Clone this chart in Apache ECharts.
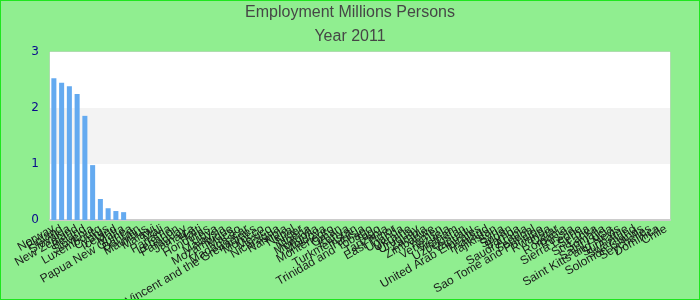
<!DOCTYPE html>
<html>
<head>
<meta charset="utf-8">
<script src="https://cdn.jsdelivr.net/npm/echarts@6/dist/echarts.min.js"></script>
<style>
html,body{margin:0;padding:0;background:#90ee90;}
#chart{width:700px;height:300px;}
</style>
</head>
<body>
<div id="chart"></div>
<script>
var titleText = "Employment Millions Persons";
var subtitleText = "Year 2011";
var categories = [
"Norway","Finland","Slovakia","New Zealand","Ireland","Slovenia","Luxembourg","Cyprus","Iceland","Malta",
"Papua New Guinea","Bahrain","Mauritius","Malawi","Mali","Panama","Lebanon","Paraguay","Jamaica","Haiti",
"Honduras","Libya","Malaysia","Mozambique","Macao","Madagascar","Saint Vincent and the Grenadines","Morocco","Mexico","Nicaragua",
"Namibia","Nepal","Niger","Nigeria","Mongolia","Moldova","Montenegro","Oman","Kenya","Turkmenistan",
"Tunisia","Trinidad and Tobago","Togo","Tanzania","East Timor","Uganda","Ukraine","Uruguay","Zambia","Zimbabwe",
"Yemen","Venezuela","Vietnam","Uzbekistan","Vanuatu","United Arab Emirates","Thailand","Tajikistan","Syria","Sudan",
"Samoa","Saudi Arabia","Senegal","Sao Tome and Principe","Rwanda","Qatar","Romania","Russia","Sierra Leone","Serbia",
"Sri Lanka","Somalia","Saint Lucia","Saint Kitts and Nevis","Suriname","Swaziland","Solomon Islands","Seychelles","Dominica","Chile"
];
var values = [
2.53,2.45,2.39,2.25,1.86,0.98,0.375,0.21,0.16,0.14,
0,0,0,0,0,0,0,0,0,0,
0,0,0,0,0,0,0,0,0,0,
0,0,0,0,0,0,0,0,0,0,
0,0,0,0,0,0,0,0,0,0,
0,0,0,0,0,0,0,0,0,0,
0,0,0,0,0,0,0,0,0,0,
0,0,0,0,0,0,0,0,0,0
];
var yMin = 0, yMax = 3, yInterval = 1;

var chart = echarts.init(document.getElementById('chart'), null, {renderer:'canvas'});
chart.setOption({
  backgroundColor: '#90ee90',
  animation: false,
  title: {
    text: titleText + "\n" + subtitleText,
    left: 'center',
    top: -4,
    textStyle: {fontSize: 16, fontWeight: 'normal', color: '#464646', lineHeight: 24, fontFamily: 'Liberation Sans'}
  },
  graphic: [{
    type: 'rect', silent: true, z: 100,
    shape: {x: 0, y: 0, width: 700, height: 300},
    style: {fill: 'none', stroke: '#1ee61e', lineWidth: 2}
  }],
  grid: {left: 50, right: 30, top: 52, bottom: 80, containLabel: false, outerBoundsMode: 'none', show: true, backgroundColor: '#ffffff', borderColor: '#cccccc', borderWidth: 1},
  xAxis: {
    type: 'category',
    data: categories,
    axisTick: {show: false},
    axisLine: {show: true, lineStyle: {color: '#cccccc', width: 2}},
    axisLabel: {interval: 0, rotate: 30, fontSize: 12, color: '#1a1a1a', fontFamily: 'Liberation Sans', margin: 8}
  },
  yAxis: {
    type: 'value',
    min: yMin, max: yMax, interval: yInterval,
    axisLine: {show: false},
    axisTick: {show: false},
    splitLine: {show: false},
    splitArea: {show: true, areaStyle: {color: ['#ffffff', '#f3f3f3']}},
    axisLabel: {fontSize: 12, color: '#0a0a8c', fontFamily: 'DejaVu Sans', margin: 11}
  },
  series: [{
    type: 'bar',
    data: values,
    barCategoryGap: '35%',
    itemStyle: {color: '#64aaf0'}
  }]
});
</script>
</body>
</html>
